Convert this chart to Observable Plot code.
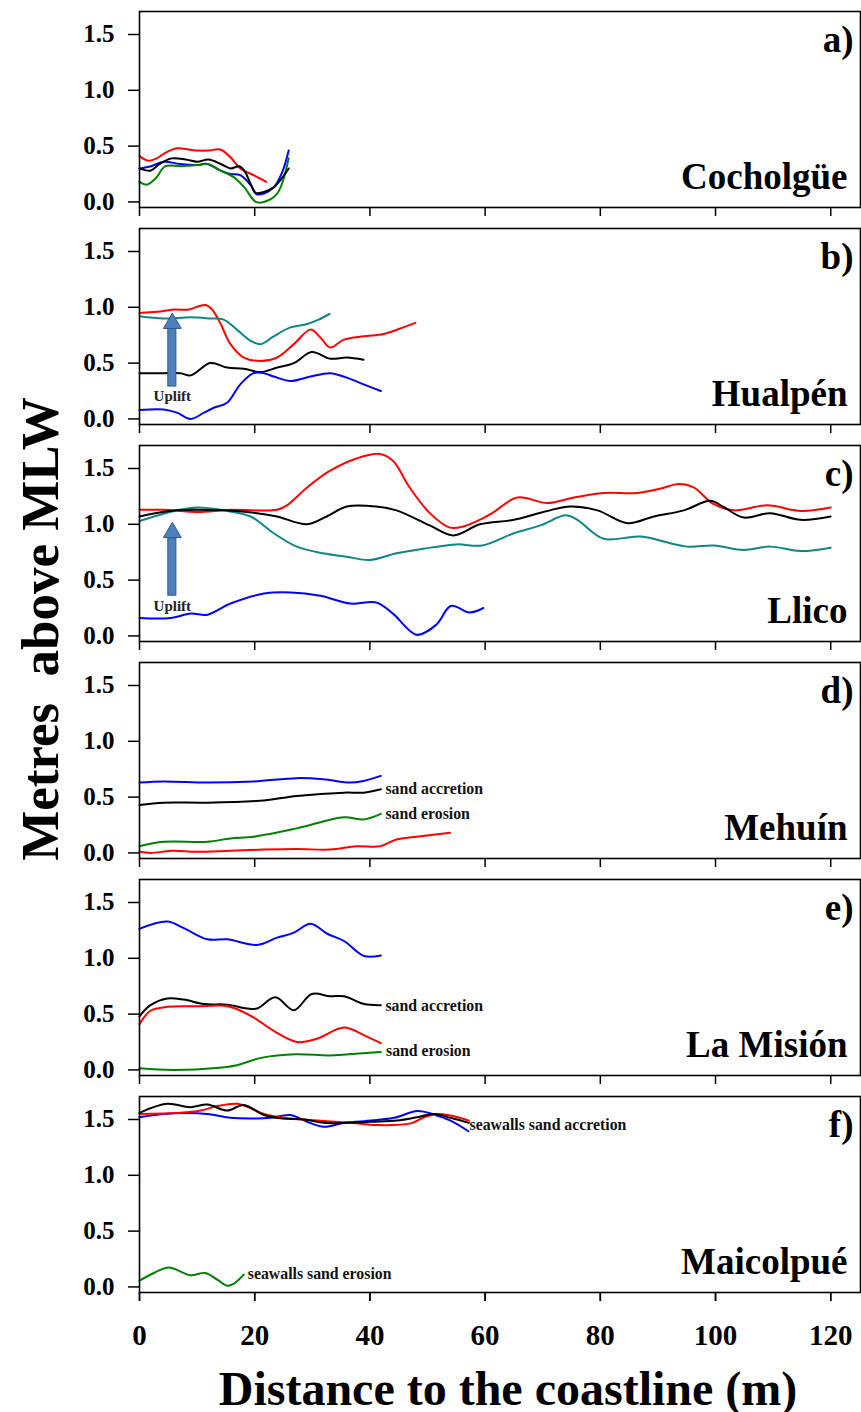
<!DOCTYPE html>
<html><head><meta charset="utf-8">
<script src="https://cdn.jsdelivr.net/npm/d3@7"></script>
<script src="https://cdn.jsdelivr.net/npm/@observablehq/plot@0.6"></script>
<style>
body{margin:0;background:#fff;}
#wrap{position:relative;width:861px;height:1412px;font-family:"Liberation Serif","Times New Roman",serif;color:#000;}
#chart{position:absolute;left:0;top:0;}
#ylab{position:absolute;left:40px;top:629px;transform:translate(-50%,-50%) rotate(-90deg);font-weight:bold;font-size:53px;white-space:pre;}
#xlab{position:absolute;left:508px;top:1388px;transform:translate(-50%,-50%);font-weight:bold;font-size:48px;white-space:nowrap;}
</style></head><body>
<div id="wrap"><div id="chart"></div><div id="ylab">Metres  above MLW</div><div id="xlab">Distance to the coastline (m)</div></div>
<script>
const panels = ["a","b","c","d","e","f"];
const panelTags = ["a)","b)","c)","d)","e)","f)"];
const sites = ["Cocholgüe","Hualpén","Llico","Mehuín","La Misión","Maicolpué"];
const xTicks = [0,20,40,60,80,100,120];
const yTicks = [0,0.5,1,1.5];

// a) Cocholgüe
const cocholgueRed = [[0,0.41],[1.5,0.37],[3,0.39],[4.5,0.44],[6.5,0.48],[8.5,0.47],[10,0.46],[12,0.46],[14,0.47],[15.8,0.40],[17.5,0.30],[19.8,0.24],[22,0.18]];
const cocholgueBlue = [[0,0.30],[2,0.32],[4.2,0.36],[7,0.34],[10,0.33],[11.8,0.34],[14.1,0.28],[15.8,0.25],[17.5,0.24],[19.3,0.15],[20.3,0.07],[21.6,0.075],[23.3,0.13],[24.8,0.27],[25.9,0.46]];
const cocholgueBlack = [[0,0.30],[1.9,0.28],[3.5,0.34],[5.6,0.39],[8,0.38],[10,0.36],[12,0.38],[14.1,0.34],[15.8,0.30],[17.3,0.32],[18.2,0.28],[19.3,0.16],[20.2,0.08],[21.6,0.09],[23.3,0.13],[25.9,0.30]];
const cocholgueGreen = [[0,0.18],[1.3,0.155],[2.8,0.21],[4.5,0.32],[7.1,0.32],[10,0.33],[11.8,0.34],[14.1,0.28],[16.4,0.22],[18.2,0.13],[20.2,0.0],[21.6,0.0],[23.9,0.075],[25.9,0.39]];

// b) Hualpén
const hualpenRed = [[0,0.95],[3.1,0.96],[6,0.98],[8.6,0.98],[10.3,1.01],[11.5,1.02],[12.6,0.98],[14.1,0.85],[15.8,0.67],[18.1,0.55],[21,0.52],[23.9,0.55],[26.8,0.67],[29.7,0.80],[31.4,0.73],[33.1,0.64],[35.5,0.71],[38.9,0.74],[42.4,0.76],[45.8,0.82],[47.9,0.86]];
const hualpenTeal = [[0,0.92],[4.2,0.90],[8.9,0.91],[12.3,0.90],[14.6,0.89],[16.9,0.80],[19.3,0.70],[21,0.67],[23.3,0.74],[26.2,0.82],[29.1,0.85],[31.1,0.89],[33,0.94]];
const hualpenBlack = [[0,0.41],[4.2,0.41],[7.1,0.41],[8.9,0.39],[12.3,0.50],[15.2,0.46],[18.1,0.45],[21,0.42],[23.9,0.46],[26.8,0.50],[29.9,0.60],[33.1,0.54],[36,0.55],[38.9,0.53]];
const hualpenBlue = [[0,0.08],[4.2,0.085],[6.5,0.056],[8.9,0.0],[11.2,0.056],[12.9,0.10],[15.2,0.145],[17.5,0.31],[19.8,0.41],[21.6,0.41],[23.3,0.38],[26.2,0.34],[29.7,0.38],[33.1,0.41],[36,0.37],[38.9,0.31],[41.9,0.25]];

// c) Llico
const llicoRed = [[0,1.13],[4.2,1.13],[10,1.11],[15.8,1.13],[23.9,1.13],[25.6,1.17],[29.1,1.33],[33.1,1.48],[37.7,1.59],[41.7,1.63],[44,1.57],[46.9,1.33],[50.4,1.10],[53.9,0.97],[56.2,0.98],[59.5,1.05],[61.5,1.11],[65.6,1.24],[70.8,1.19],[75.4,1.24],[80.6,1.28],[86.4,1.28],[90.5,1.32],[93.6,1.36],[96.2,1.33],[99.7,1.18],[103.2,1.125],[109,1.17],[114.8,1.12],[120,1.15]];
const llicoBlack = [[0,1.07],[6.5,1.125],[14.6,1.125],[20.4,1.10],[23.9,1.07],[29.1,1.00],[32.5,1.07],[36,1.16],[41.1,1.16],[44.6,1.125],[50.4,0.99],[54.5,0.90],[59.1,1.0],[65,1.04],[70.8,1.12],[74.8,1.16],[79.5,1.125],[84.7,1.01],[89.3,1.07],[94.5,1.125],[99.1,1.21],[101.4,1.155],[104.9,1.06],[109.5,1.10],[114.8,1.04],[120,1.07]];
const llicoTeal = [[0,1.03],[6,1.12],[10,1.15],[14.6,1.125],[19.3,1.07],[23.3,0.92],[27.3,0.80],[31.9,0.74],[35.9,0.71],[40,0.68],[44.6,0.74],[49.2,0.78],[55,0.82],[59.5,0.81],[65,0.92],[69.6,0.99],[74,1.08],[76,1.04],[80.6,0.87],[87,0.89],[95,0.80],[99.7,0.81],[104.9,0.77],[109.5,0.80],[114.8,0.76],[120,0.79]];
const llicoBlue = [[0,0.16],[5.4,0.16],[8.9,0.20],[11.8,0.19],[15.8,0.29],[21.6,0.38],[26.2,0.39],[31.4,0.36],[36.6,0.29],[41.1,0.30],[44,0.20],[48.1,0.01],[51.5,0.10],[54.1,0.27],[57.3,0.21],[59.7,0.25]];

// d) Mehuín
const mehuinBlue = [[0,0.63],[4.2,0.64],[11.8,0.63],[19.8,0.64],[27.3,0.67],[31.9,0.66],[36.6,0.63],[38.9,0.645],[41.9,0.69]];
const mehuinBlack = [[0,0.43],[4.2,0.45],[11.8,0.45],[21.6,0.47],[27.3,0.51],[35.5,0.54],[38.9,0.54],[41.9,0.57]];
const mehuinGreen = [[0,0.06],[4.2,0.10],[11.8,0.10],[15.8,0.13],[19.8,0.145],[27.3,0.22],[35.5,0.32],[38.9,0.30],[41.9,0.35]];
const mehuinRed = [[0,0.01],[1.9,0.0],[5.8,0.02],[9.8,0.01],[15.8,0.02],[21.6,0.03],[27.3,0.035],[33.1,0.03],[37.7,0.06],[41.8,0.06],[44.6,0.12],[48.1,0.145],[53.9,0.18]];

// e) La Misión
const misionBlue = [[0,1.265],[4.8,1.33],[7.7,1.27],[11.8,1.17],[15.2,1.17],[20.4,1.12],[23.9,1.185],[26.8,1.23],[29.7,1.31],[32.6,1.22],[35.5,1.155],[39,1.02],[41.9,1.025]];
const misionBlack = [[0,0.48],[1.9,0.58],[4.8,0.64],[7.7,0.63],[11.2,0.59],[15.2,0.585],[18.7,0.55],[20.4,0.55],[23.6,0.65],[26.8,0.535],[29.9,0.68],[33.1,0.66],[35.5,0.66],[39,0.59],[41.9,0.58]];
const misionRed = [[0,0.41],[1.9,0.53],[4.8,0.565],[10,0.57],[14.6,0.575],[16.4,0.555],[19.8,0.47],[23.3,0.35],[27.3,0.25],[30.8,0.28],[35.5,0.38],[39,0.31],[41.9,0.24]];
const misionGreen = [[0,0.015],[5.8,0.0],[13.9,0.02],[16.7,0.04],[21.3,0.11],[27.1,0.14],[32.9,0.13],[36.3,0.14],[41.9,0.16]];

// f) Maicolpué
const maicolpueBlack = [[0,1.56],[4.8,1.64],[8.8,1.61],[11.8,1.635],[15.2,1.58],[18.1,1.63],[21.6,1.54],[24.5,1.51],[28.6,1.50],[32,1.47],[36.1,1.47],[40.1,1.48],[44.7,1.49],[48.2,1.52],[51.1,1.55],[54,1.515],[57.2,1.47]];
const maicolpueRed = [[0,1.55],[7.1,1.56],[10.6,1.58],[13.5,1.62],[17,1.64],[19.3,1.60],[21.6,1.55],[25.1,1.515],[30.9,1.49],[36.6,1.47],[41.3,1.45],[47.1,1.465],[49.4,1.52],[51.7,1.55],[54,1.535],[57.2,1.49]];
const maicolpueBlue = [[0,1.52],[4.2,1.55],[11.8,1.55],[15.8,1.515],[20.4,1.51],[22.7,1.515],[26.2,1.54],[29.1,1.48],[32,1.435],[35.5,1.47],[39,1.485],[44.2,1.515],[48.2,1.575],[51.1,1.545],[54,1.49],[57.1,1.395]];
const maicolpueGreen = [[0,0.056],[2.5,0.125],[5.1,0.175],[8.8,0.105],[11.4,0.125],[13.5,0.065],[15.2,0.01],[16.4,0.03],[18.1,0.11]];

// annotations: [panel, x, y, text]
const notes = [
  ["d",42.7,0.57,"sand accretion"],["d",42.7,0.35,"sand erosion"],
  ["e",42.7,0.57,"sand accretion"],["e",42.8,0.17,"sand erosion"],
  ["f",57.3,1.45,"seawalls sand accretion"],["f",18.8,0.12,"seawalls sand erosion"]
];
// uplift arrows: [panel, x, shaft bottom, head base, head tip, label y]
const uplifts = [["b",5.7,0.29,0.81,0.95,0.20],["c",5.7,0.36,0.875,1.03,0.27]];

const seriesList = [
  ["a","red",cocholgueRed],["a","blue",cocholgueBlue],["a","green",cocholgueGreen],["a","black",cocholgueBlack],
  ["b","red",hualpenRed],["b","#108585",hualpenTeal],["b","black",hualpenBlack],["b","blue",hualpenBlue],
  ["c","red",llicoRed],["c","#108585",llicoTeal],["c","black",llicoBlack],["c","blue",llicoBlue],
  ["d","blue",mehuinBlue],["d","black",mehuinBlack],["d","green",mehuinGreen],["d","red",mehuinRed],
  ["e","blue",misionBlue],["e","black",misionBlack],["e","red",misionRed],["e","green",misionGreen],
  ["f","green",maicolpueGreen],["f","blue",maicolpueBlue],["f","red",maicolpueRed],["f","black",maicolpueBlack]
];
const rows = seriesList.flatMap(([panel,color,pts],i) => pts.map(([x,y]) => ({panel,color,id:i,x,y})));
const labelRows = panels.map((p,i) => ({panel:p, tag:panelTags[i], site:sites[i]}));
const noteRows = notes.map(([panel,x,y,text]) => ({panel,x,y,text}));
const arrowRows = uplifts.map(([panel,x,y0,yb,yt,ly]) => ({panel,x,y0,yb,yt,ly,
  xa:x-0.7, xb:x+0.7, yc: yb + (yt-yb)/3}));

const FONT = "Liberation Serif";
const chart = Plot.plot({
  width: 861, height: 1412,
  marginLeft: 139, marginRight: 1, marginTop: 10, marginBottom: 118,
  style: {fontFamily: FONT, background: "white", color: "black", overflow: "visible"},
  x: {domain: [0, 125.17]},
  y: {domain: [-0.05, 1.706]},
  fy: {domain: panels, paddingInner: 0.0957, paddingOuter: 0, axis: null},
  color: {type: "identity"},
  marks: [
    Plot.line(rows, {x:"x", y:"y", z:"id", stroke:"color", fy:"panel", curve:"catmull-rom", strokeWidth:2}),
    Plot.rect(arrowRows, {x1:"xa", x2:"xb", y1:"y0", y2:"yb", fy:"panel", fill:"#4f7fbb", stroke:"#2e5a8c", strokeWidth:1}),
    Plot.dot(arrowRows, {x:"x", y:"yc", fy:"panel", symbol:"triangle", r:6.6, fill:"#4f7fbb", stroke:"#2e5a8c", strokeWidth:1}),
    Plot.text(arrowRows, {x:"x", y:"ly", fy:"panel", text: () => "Uplift", fontSize:15, fontWeight:"bold", fontFamily: FONT, fill:"#222"}),
    Plot.text(noteRows, {x:"x", y:"y", fy:"panel", text:"text", textAnchor:"start", fontSize:15.8, fontWeight:"bold", fontFamily: FONT, fill:"#111"}),
    Plot.text(labelRows, {fy:"panel", text:"tag", frameAnchor:"top-right", lineAnchor:"bottom", dx:-7, dy:40, fontSize:37, fontWeight:"bold", fontFamily: FONT}),
    Plot.text(labelRows, {fy:"panel", text:"site", frameAnchor:"bottom-right", lineAnchor:"bottom", dx:-13, dy:-19, fontSize:37, fontWeight:"bold", fontFamily: FONT}),
    Plot.frame({stroke:"black", strokeWidth:1.6}),
    Plot.axisY({ticks: yTicks, tickFormat: d => d.toFixed(1), tickSize: 11, tickPadding: 14, strokeWidth: 1.5, fontSize: 25, fontWeight: "bold", fontFamily: FONT, label: null}),
    Plot.axisX({ticks: xTicks, tickFormat: () => "", tickSize: 9, strokeWidth: 1.5, label: null, facetAnchor: null}),
    Plot.axisX({ticks: xTicks, tickSize: 9, tickPadding: 23, strokeWidth: 1.5, fontSize: 29, fontWeight: "bold", fontFamily: FONT, label: null})
  ]
});
document.getElementById("chart").appendChild(chart);
</script>
</body></html>
